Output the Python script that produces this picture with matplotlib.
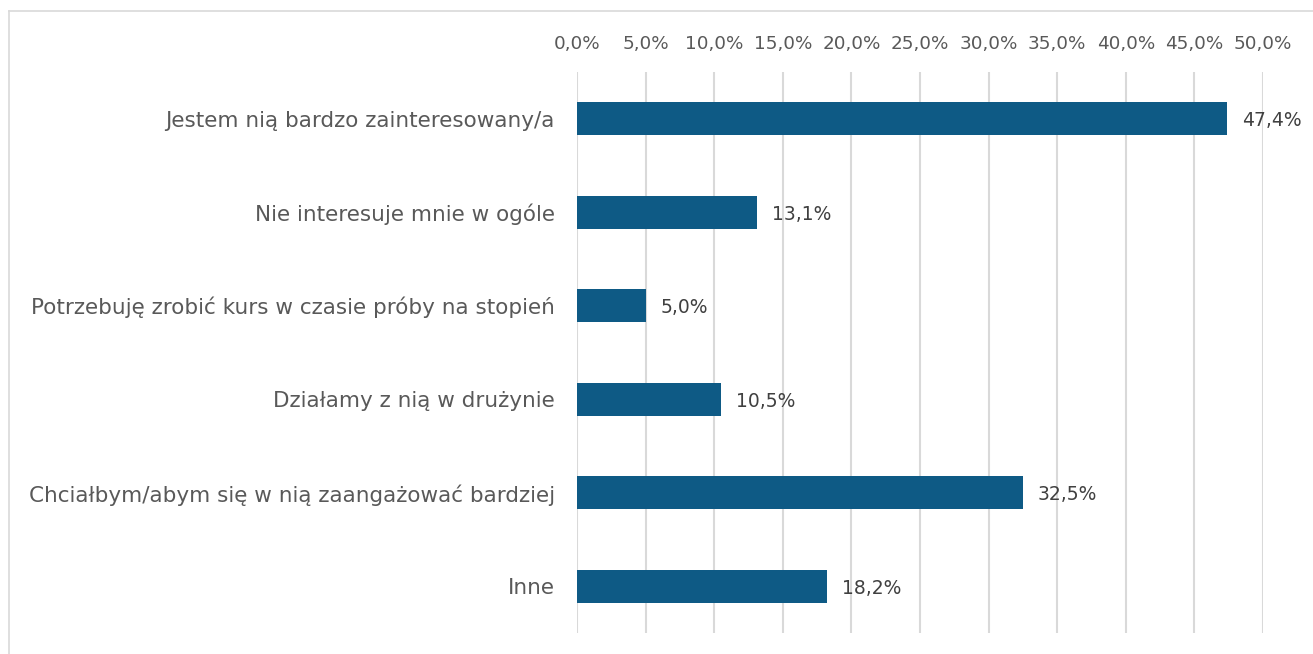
import numpy as np
import matplotlib
matplotlib.use("Agg")
from matplotlib import pyplot as plt

kategorie = [
    "Jestem nią bardzo zainteresowany/a",
    "Nie interesuje mnie w ogóle",
    "Potrzebuję zrobić kurs w czasie próby na stopień",
    "Działamy z nią w drużynie",
    "Chciałbym/abym się w nią zaangażować bardziej",
    "Inne",
]
wartosci = [47.4, 13.1, 5.0, 10.5, 32.5, 18.2]
ticki = [0, 5, 10, 15, 20, 25, 30, 35, 40, 45, 50]

plt.rcParams["font.family"] = ["DejaVu Sans"]
kolor_osi = "#595959"
kolor_etykiet = "#404040"

fig = plt.figure(figsize=(13.13, 6.54), dpi=100)
ax = fig.add_axes([577 / 1313, 1 - 633 / 654, 686 / 1313, 561 / 654])

y = np.arange(len(kategorie))
bars = ax.barh(y, wartosci, height=0.35, color="#0e5a85", zorder=3)

for b, v in zip(bars, wartosci):
    ax.text(v + 1.1, b.get_y() + b.get_height() / 2 + 0.02, f"{v:.1f}%".replace(".", ","),
            va="center", ha="left", fontsize=13.5, color=kolor_etykiet)

ax.set_xlim(0, 50)
ax.set_ylim(len(kategorie) - 0.5, -0.5)
ax.set_xticks(ticki)
ax.set_xticklabels([f"{t:.1f}%".replace(".", ",") for t in ticki], fontsize=13.2, color=kolor_osi)
ax.xaxis.tick_top()
ax.tick_params(axis="x", length=0, pad=14)
ax.set_yticks(y)
ax.set_yticklabels(kategorie, fontsize=15.5, color=kolor_osi)
ax.tick_params(axis="y", length=0, pad=16)
ax.grid(axis="x", color="#d9d9d9", linewidth=1.5, zorder=0)
for s in ax.spines.values():
    s.set_visible(False)

# ramka wykresu
fig.add_artist(plt.Line2D([9 / 1313, 1], [1 - 11 / 654, 1 - 11 / 654], color="#d9d9d9", lw=1.2))
fig.add_artist(plt.Line2D([9 / 1313, 9 / 1313], [0, 1 - 11 / 654], color="#d9d9d9", lw=1.2))

fig.savefig("out.png", dpi=100)
